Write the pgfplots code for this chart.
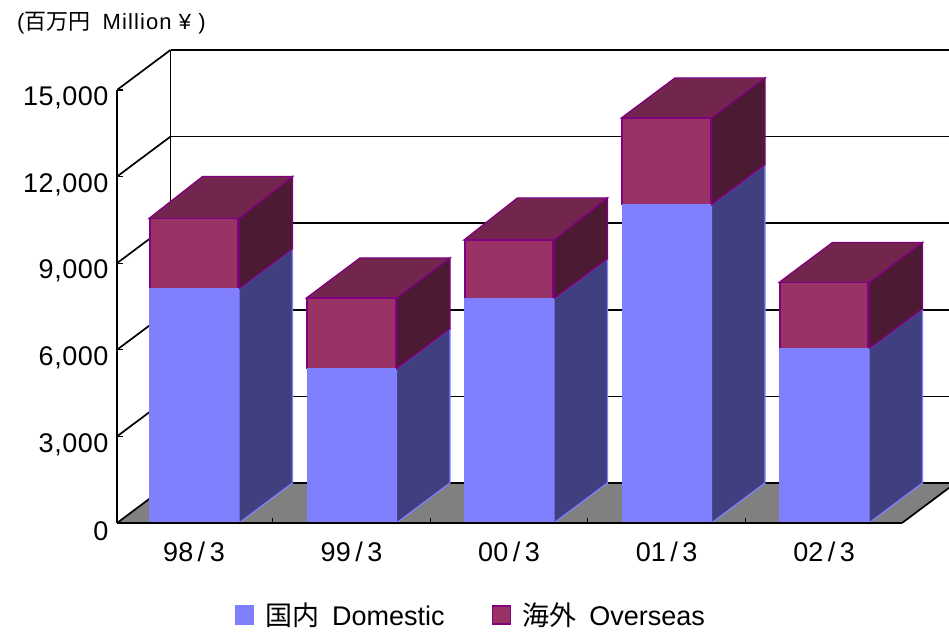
\documentclass[border=0pt]{standalone}
\usepackage{fontspec}
\setmainfont{Liberation Sans}
\newfontfamily\cjk{Noto Sans CJK JP}
\usepackage{pgfplots}
\usepackage{pgfplotstable}
\pgfplotsset{compat=1.18}
\definecolor{domF}{HTML}{8080FF}
\definecolor{domS}{HTML}{404080}
\definecolor{ovF}{HTML}{993366}
\definecolor{ovS}{HTML}{4D1A33}
\definecolor{ovT}{HTML}{73264D}
\definecolor{ovE}{HTML}{800080}
\definecolor{flr}{HTML}{808080}
\pgfplotstableread{
i dom ov
0 8116 2432
1 5345 2449
2 7769 2035
3 11026 3004
4 6037 2294
}\sales
\begin{document}
\begin{tikzpicture}[x=1pt,y=1pt]
\path[use as bounding box] (0,0) rectangle (949,631);
% back walls, floor and the depth faces of the bars
\begin{axis}[
  at={(117pt,100pt)},anchor=south west,
  hide axis,
  x=157.5pt,y=0.028867pt,
  xmin=-0.489,xmax=4.794,
  ymin=-277,ymax=16800,
]
\addplot[fill=flr,draw=none] coordinates {(-0.489,0)(4.495,0)(4.835,1386)(-0.149,1386)} -- cycle;
% floor and walls
\addplot[black,line width=1.7pt] coordinates {(-0.489,0)(-0.149,1386)};
\addplot[black,line width=1.7pt] coordinates {(4.495,0)(4.835,1386)};
\addplot[black,line width=1.7pt] coordinates {(-0.149,1386)(-0.149,16386)};
\addplot[black,line width=1.7pt] coordinates {(-0.149,1386)(4.9,1386)};
\addplot[black,line width=1.7pt] coordinates {(-0.149,4386)(4.9,4386)};
\addplot[black,line width=1.7pt] coordinates {(-0.149,7386)(4.9,7386)};
\addplot[black,line width=1.7pt] coordinates {(-0.149,10386)(4.9,10386)};
\addplot[black,line width=1.7pt] coordinates {(-0.149,13386)(4.9,13386)};
\addplot[black,line width=1.7pt] coordinates {(-0.149,16386)(4.9,16386)};
\addplot[black,line width=1.7pt] coordinates {(-0.489,3000)(-0.149,4386)};
\addplot[black,line width=1.7pt] coordinates {(-0.489,6000)(-0.149,7386)};
\addplot[black,line width=1.7pt] coordinates {(-0.489,9000)(-0.149,10386)};
\addplot[black,line width=1.7pt] coordinates {(-0.489,12000)(-0.149,13386)};
\addplot[black,line width=1.7pt] coordinates {(-0.489,15000)(-0.149,16386)};
% 98/3
\addplot[fill=domS,draw=domF,line width=1.3pt] coordinates {(0.2857,0)(0.6254,1386)(0.6254,9502)(0.2857,8116)} -- cycle;
\addplot[fill=ovS,draw=ovE,line width=1.3pt] coordinates {(0.2857,8116)(0.6254,9502)(0.6254,12000)(0.2857,10548)} -- cycle;
\addplot[fill=ovT,draw=ovE,line width=1.3pt] coordinates {(-0.2857,10548)(0.2857,10548)(0.6254,12000)(0.054,12000)} -- cycle;
% 99/3
\addplot[fill=domS,draw=domF,line width=1.3pt] coordinates {(1.2857,0)(1.6254,1386)(1.6254,6731)(1.2857,5345)} -- cycle;
\addplot[fill=ovS,draw=ovE,line width=1.3pt] coordinates {(1.2857,5345)(1.6254,6731)(1.6254,9180)(1.2857,7794)} -- cycle;
\addplot[fill=ovT,draw=ovE,line width=1.3pt] coordinates {(0.7143,7794)(1.2857,7794)(1.6254,9180)(1.054,9180)} -- cycle;
% 00/3
\addplot[fill=domS,draw=domF,line width=1.3pt] coordinates {(2.2857,0)(2.6254,1386)(2.6254,9155)(2.2857,7769)} -- cycle;
\addplot[fill=ovS,draw=ovE,line width=1.3pt] coordinates {(2.2857,7769)(2.6254,9155)(2.6254,11260)(2.2857,9804)} -- cycle;
\addplot[fill=ovT,draw=ovE,line width=1.3pt] coordinates {(1.7143,9804)(2.2857,9804)(2.6254,11260)(2.054,11260)} -- cycle;
% 01/3
\addplot[fill=domS,draw=domF,line width=1.3pt] coordinates {(3.2857,0)(3.6254,1386)(3.6254,12412)(3.2857,11026)} -- cycle;
\addplot[fill=ovS,draw=ovE,line width=1.3pt] coordinates {(3.2857,11026)(3.6254,12412)(3.6254,15416)(3.2857,14030)} -- cycle;
\addplot[fill=ovT,draw=ovE,line width=1.3pt] coordinates {(2.7143,14030)(3.2857,14030)(3.6254,15416)(3.054,15416)} -- cycle;
% 02/3
\addplot[fill=domS,draw=domF,line width=1.3pt] coordinates {(4.2857,0)(4.6254,1386)(4.6254,7423)(4.2857,6037)} -- cycle;
\addplot[fill=ovS,draw=ovE,line width=1.3pt] coordinates {(4.2857,6037)(4.6254,7423)(4.6254,9717)(4.2857,8331)} -- cycle;
\addplot[fill=ovT,draw=ovE,line width=1.3pt] coordinates {(3.7143,8331)(4.2857,8331)(4.6254,9717)(4.054,9717)} -- cycle;
\end{axis}
% front faces, axes, labels, legend
\begin{axis}[
  at={(117pt,108pt)},anchor=south west,
  x=157.5pt,y=0.028867pt,
  xmin=-0.489,xmax=4.495,
  ymin=0,ymax=15000,
  ybar stacked,bar width=88.5pt,
  axis on top,
  axis x line*=bottom,axis y line*=left,
  axis line style={black,line width=1.7pt},
  tick align=inside,
  xtick={0,1,2,3,4},
  xticklabels={98\,/\,3,99\,/\,3,00\,/\,3,01\,/\,3,02\,/\,3},
  minor xtick={0.5,1.5,2.5,3.5,4.5},
  ytick={0,3000,6000,9000,12000,15000},
  major x tick style={draw=none},
  minor x tick style={black,line width=1.2pt},
  major y tick style={black,line width=1.2pt},
  major tick length=6pt,minor tick length=5pt,
  /pgf/number format/assume math mode=true,
  /pgf/number format/1000 sep={,},
  scaled y ticks=false,
  xticklabel style={font=\fontsize{27}{27}\selectfont,yshift=-15pt},
  yticklabel style={font=\fontsize{27}{27}\selectfont\addfontfeature{LetterSpace=2},yshift=-8pt,xshift=-5pt},
  legend columns=2,
  legend cell align=left,
  legend style={draw=none,fill=none,at={(0.150,-0.2125)},anchor=west,font=\fontsize{27}{27}\selectfont,
    /tikz/every even column/.append style={column sep=45.5pt},inner sep=0pt,outer sep=0pt},
  legend image code/.code={\draw[#1,line width=1.3pt] (0pt,-9pt) rectangle (18pt,9pt);},
]
\addplot[fill=domF,draw=domF,line width=1.3pt] table[x=i,y=dom] {\sales};
\addplot[fill=ovF,draw=ovE,line width=1.6pt] table[x=i,y=ov] {\sales};
\legend{\hspace{9pt}{\cjk 国内}\hspace{5.5pt} Domestic,\hspace{9pt}{\cjk 海外}\hspace{5.5pt} Overseas}
\end{axis}
\node[anchor=base west,inner sep=0pt,font=\fontsize{22}{22}\selectfont\addfontfeature{LetterSpace=5}] at (17,631-30) {({\cjk 百万円}\hspace{5pt} Million ¥ )};
\end{tikzpicture}
\end{document}
